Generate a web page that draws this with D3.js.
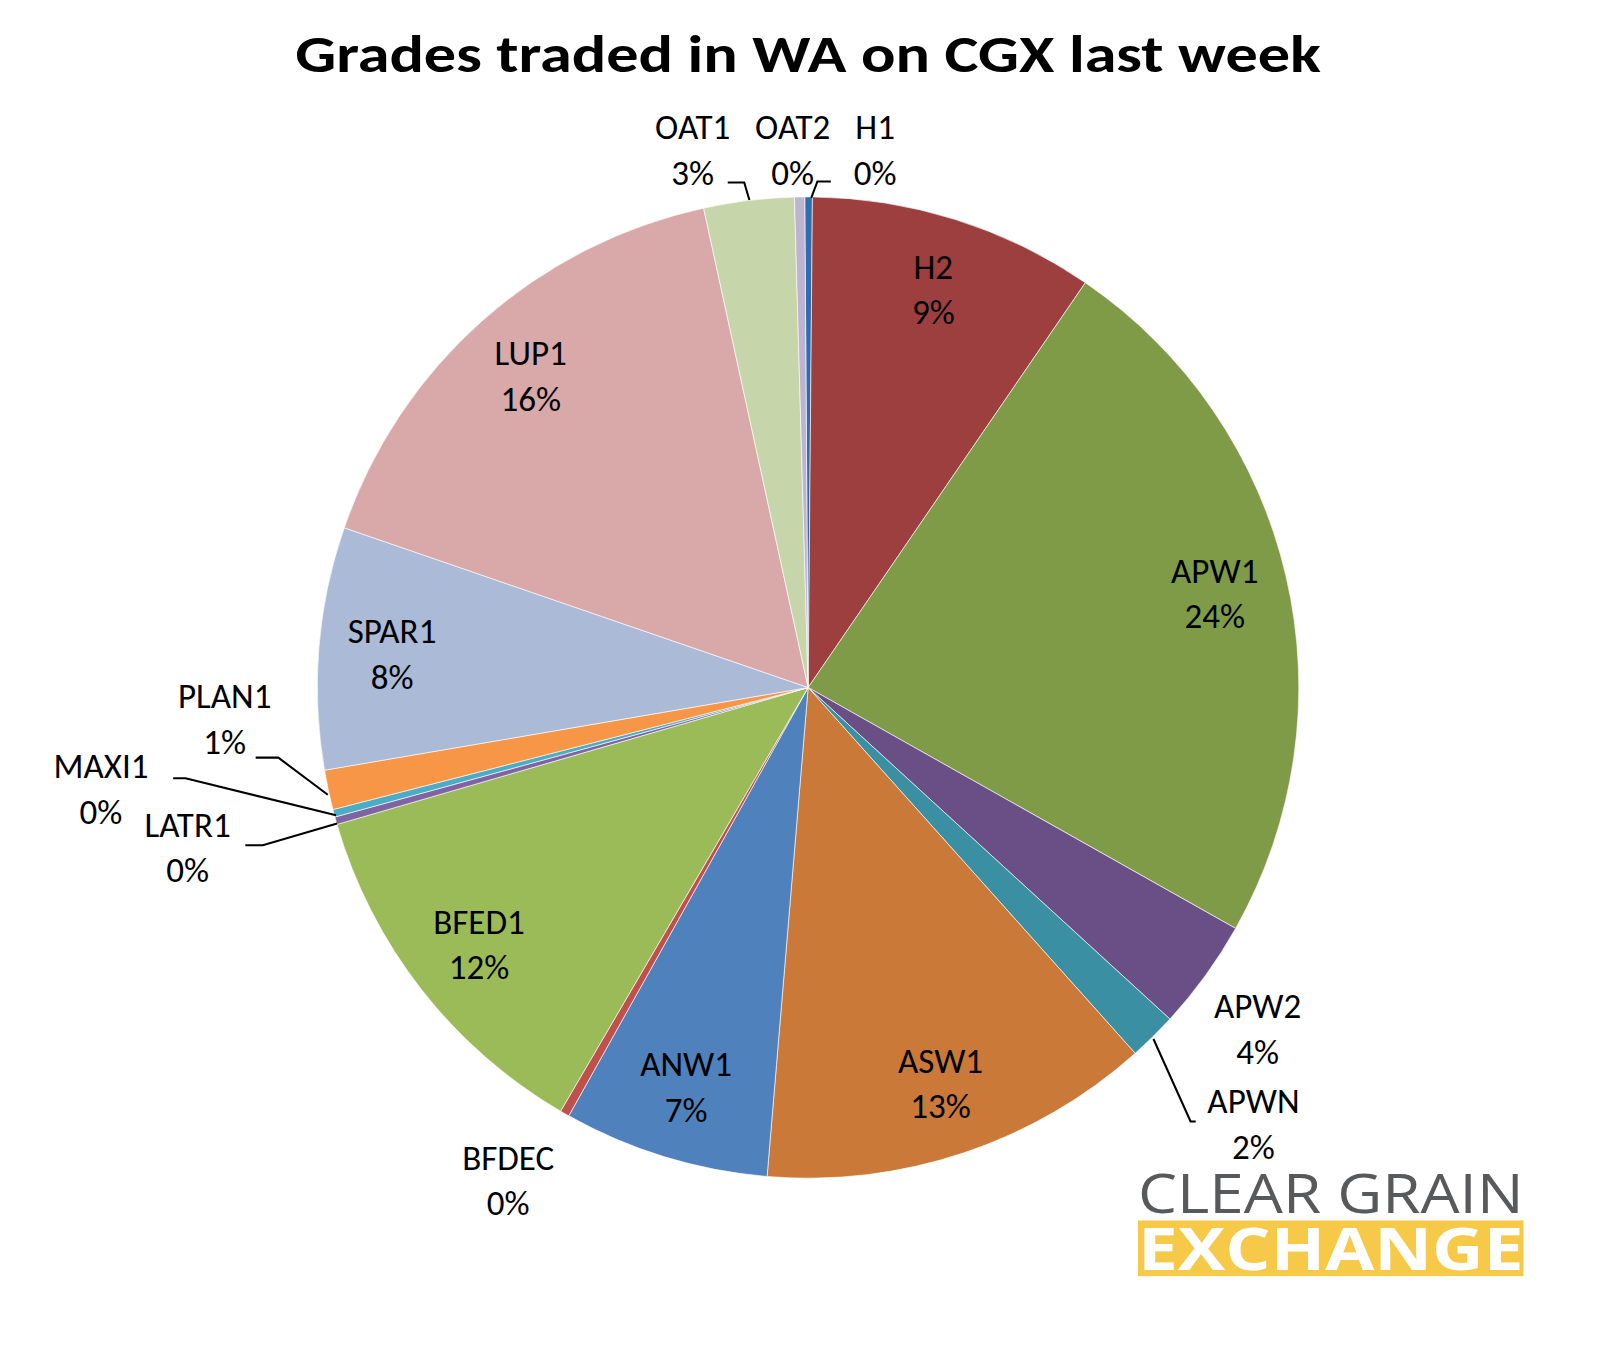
<!DOCTYPE html>
<html><head><meta charset="utf-8">
<script src="https://cdn.jsdelivr.net/npm/d3@7"></script>
<style>body{margin:0;background:#fff}</style></head>
<body><svg id="c" width="1608" height="1351"></svg>
<script>
const grades = ["H1","H2","APW1","APW2","APWN","ASW1","ANW1","BFDEC","BFED1","LATR1","MAXI1","PLAN1","SPAR1","LUP1","OAT1","OAT2"];
const shares = [0.9,33.9,85.0,13.1,5.7,46.6,24.4,1.1,43.5,0.9,0.9,4.7,28.7,58.7,10.7,1.2];
const colors = ["#2E6DB0","#9C3F3E","#7F9B48","#6A4F86","#3A8FA2","#CB7939","#4F81BD","#C0504D","#9BBB59","#8064A2","#4BACC6","#F79646","#AABAD7","#D9A9A9","#C6D6AA","#BFB3D2"];
const outside = {
  OAT1:{x:672,y:145,line:[[706,177],[722,177],[727,194]]},
  OAT2:{x:769,y:145,line:null},
  H1:{x:849,y:145,line:[[806,176],[793,176],[787,192]]},
  APW2:{x:1220,y:998,line:null},
  APWN:{x:1216,y:1090,line:[[1160,1088],[1155,1088],[1119,1008]]},
  BFDEC:{x:493,y:1145,line:null},
  PLAN1:{x:218,y:697,line:[[248,735],[270,735],[318,771]]},
  MAXI1:{x:98,y:765,line:[[168,755],[180,755],[326,791]]},
  LATR1:{x:182,y:822,line:[[238,820],[255,820],[327,799]]}
};
const svg = d3.select("#c");
const root = svg.append("g").attr("transform","scale(1.0308)");
const font = "Carlito, Calibri, 'Open Sans', 'Liberation Sans', sans-serif";
root.append("text").attr("x",784).attr("y",70).attr("text-anchor","middle")
  .attr("font-family",font).attr("font-weight","bold").attr("font-size",50)
  .attr("textLength",995).attr("lengthAdjust","spacingAndGlyphs").text("Grades traded in WA on CGX last week");
const cx=784, cy=667, R=476;
const total = d3.sum(shares);
const data = grades.map((g,i)=>({g,v:shares[i],c:colors[i]}));
const pie = d3.pie().value(d=>d.v).sort(null).startAngle(-0.4*Math.PI/180).endAngle(2*Math.PI-0.4*Math.PI/180);
const arcs = pie(data);
const arc = d3.arc().innerRadius(0).outerRadius(R);
const lab = d3.arc().innerRadius(405).outerRadius(405);
const g = root.append("g").attr("transform",`translate(${cx},${cy})`);
g.selectAll("path").data(arcs).join("path").attr("d",arc).attr("fill",d=>d.data.c)
  .attr("stroke","#fff").attr("stroke-width",0.6);
arcs.forEach(a=>{
  const pct = Math.round(a.data.v/total*100)+"%";
  let x,y;
  const o = outside[a.data.g];
  if(o){ x=o.x-cx; y=o.y-cy;
    if(o.line) g.append("path").attr("d",d3.line()(o.line.map(p=>[p[0]-cx,p[1]-cy]))).attr("fill","none").attr("stroke","#000").attr("stroke-width",2);
  } else { [x,y]=lab.centroid(a); }
  const t = g.append("text").attr("text-anchor","middle").attr("font-family",font).attr("font-size",34).attr("fill","#000");
  t.append("tspan").attr("x",x).attr("y",y-10).text(a.data.g);
  t.append("tspan").attr("x",x).attr("y",y+34).text(pct);
});
// logo
root.append("rect").attr("x",1100).attr("y",1128).attr("width",385).attr("height",118).attr("fill","#fff");
root.append("text").attr("x",1104).attr("y",1177).attr("font-family","'Open Sans', sans-serif").attr("font-size",53).attr("fill","#58595B")
  .attr("textLength",374).attr("lengthAdjust","spacingAndGlyphs").text("CLEAR GRAIN");
root.append("rect").attr("x",1104).attr("y",1184).attr("width",374).attr("height",54).attr("fill","#F7C948");
root.append("text").attr("x",1104).attr("y",1232).attr("font-family","'Open Sans', sans-serif").attr("font-weight","bold").attr("font-size",58).attr("fill","#fff")
  .attr("textLength",374).attr("lengthAdjust","spacingAndGlyphs").text("EXCHANGE");
</script></body></html>
